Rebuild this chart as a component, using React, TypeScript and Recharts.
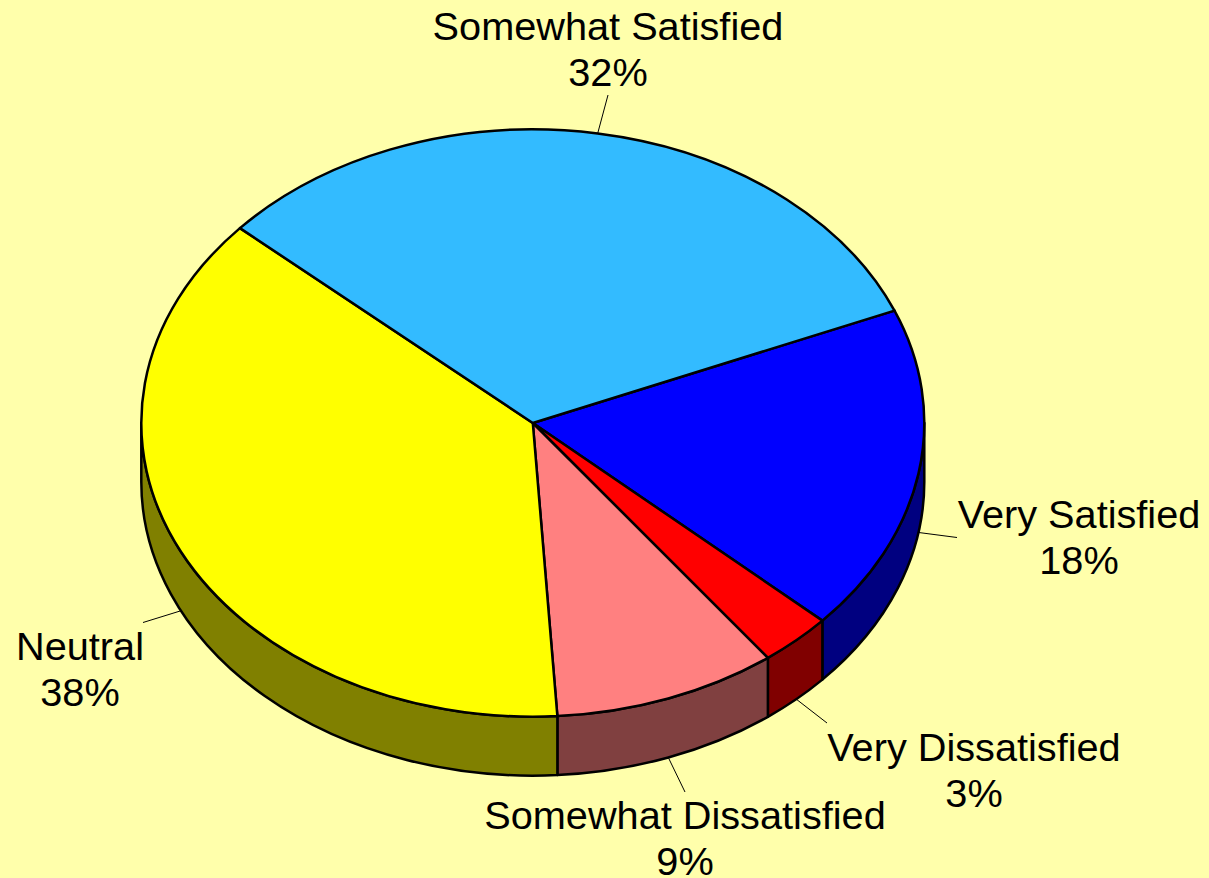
import { PieChart, Pie } from "recharts";

const categories = ["Very Satisfied", "Very Dissatisfied", "Somewhat Dissatisfied", "Neutral", "Somewhat Satisfied"];
const shares = [18, 3, 9.25, 37.55, 32.2]; // printed rounded on the labels
const topColors = ["#0000FF", "#FF0000", "#FF8080", "#FFFF00", "#33BBFF"];
const sideColors = ["#000080", "#800000", "#804040", "#808000", "#1A5E80"];

// where each label's text sits and where its leader line stops
const labelCenterX = [1079, 974, 685, 80, 608];
const labelBaseY = [528, 761, 829, 660, 40];
const leaderEnd = [[957, 537.5], [827, 723], [685, 792], [143, 622.5], [608, 95]];

const WIDTH = 1209;
const HEIGHT = 878;
const CX = 532.8;
const CY = 423;
const RX = 391.5;
const SQUASH = 0.75; // tilt of the pie, ry / rx
const DEPTH = 59;
const LINE_GAP = 46;

const topRows = categories.map((name, i) => ({ name, value: shares[i], fill: topColors[i] }));
const sideRows = categories.map((name, i) => ({ name, value: shares[i], fill: sideColors[i] }));

const rad = (deg: number) => (deg * Math.PI) / 180;
const onEllipse = (p: any, deg: number, r: number) => [
  p.cx + r * Math.cos(rad(deg)),
  p.cy - r * SQUASH * Math.sin(rad(deg)),
];

// flat sector squashed to an ellipse
const TopSlice = (p: any) => {
  const r = p.outerRadius;
  const [x0, y0] = onEllipse(p, p.startAngle, r);
  const [x1, y1] = onEllipse(p, p.endAngle, r);
  const large = Math.abs(p.startAngle - p.endAngle) > 180 ? 1 : 0;
  const d = `M${p.cx},${p.cy} L${x0},${y0} A${r},${r * SQUASH} 0 ${large} 1 ${x1},${y1} Z`;
  return <path d={d} fill={p.fill} stroke="#000" strokeWidth={2.5} strokeLinejoin="round" />;
};

// outer wall, only the part of the arc that faces the viewer
const SideSlice = (p: any) => {
  const hi = Math.min(p.startAngle, 0);
  const lo = Math.max(p.endAngle, -180);
  if (hi <= lo) return null;
  const r = p.outerRadius;
  const ry = r * SQUASH;
  const [x0, y0] = onEllipse(p, hi, r);
  const [x1, y1] = onEllipse(p, lo, r);
  const d = `M${x0},${y0} A${r},${ry} 0 0 1 ${x1},${y1} L${x1},${y1 + DEPTH} A${r},${ry} 0 0 0 ${x0},${y0 + DEPTH} Z`;
  return <path d={d} fill={p.fill} stroke="#000" strokeWidth={2.5} strokeLinejoin="round" />;
};

const Leader = (p: any) => {
  const [x, y] = onEllipse(p, p.midAngle, p.outerRadius);
  const front = Math.sin(rad(p.midAngle)) < 0;
  const [ex, ey] = leaderEnd[p.index];
  return <line x1={x} y1={front ? y + DEPTH : y} x2={ex} y2={ey} stroke="#000" strokeWidth={1} />;
};

const SliceLabel = (p: any) => {
  const x = labelCenterX[p.index];
  const y = labelBaseY[p.index];
  return (
    <text textAnchor="middle" fontFamily="'Liberation Sans', Arial, sans-serif" fontSize={39.7} fill="#000">
      <tspan x={x} y={y}>{p.name}</tspan>
      <tspan x={x} y={y + LINE_GAP}>{`${Math.round(p.value)}%`}</tspan>
    </text>
  );
};

export default function App() {
  return (
    <div style={{ position: "absolute", left: 0, top: 0, width: WIDTH, height: HEIGHT, background: "#FFFFAB", overflow: "hidden" }}>
      <PieChart width={WIDTH} height={HEIGHT} margin={{ top: 0, right: 0, bottom: 0, left: 0 }}>
        <Pie
          data={sideRows}
          dataKey="value"
          nameKey="name"
          cx={CX}
          cy={CY}
          outerRadius={RX}
          startAngle={22.5}
          endAngle={-337.5}
          shape={SideSlice}
          isAnimationActive={false}
          label={false}
          labelLine={false}
        />
        <Pie
          data={topRows}
          dataKey="value"
          nameKey="name"
          cx={CX}
          cy={CY}
          outerRadius={RX}
          startAngle={22.5}
          endAngle={-337.5}
          shape={TopSlice}
          isAnimationActive={false}
          label={SliceLabel}
          labelLine={Leader}
        />
      </PieChart>
    </div>
  );
}
